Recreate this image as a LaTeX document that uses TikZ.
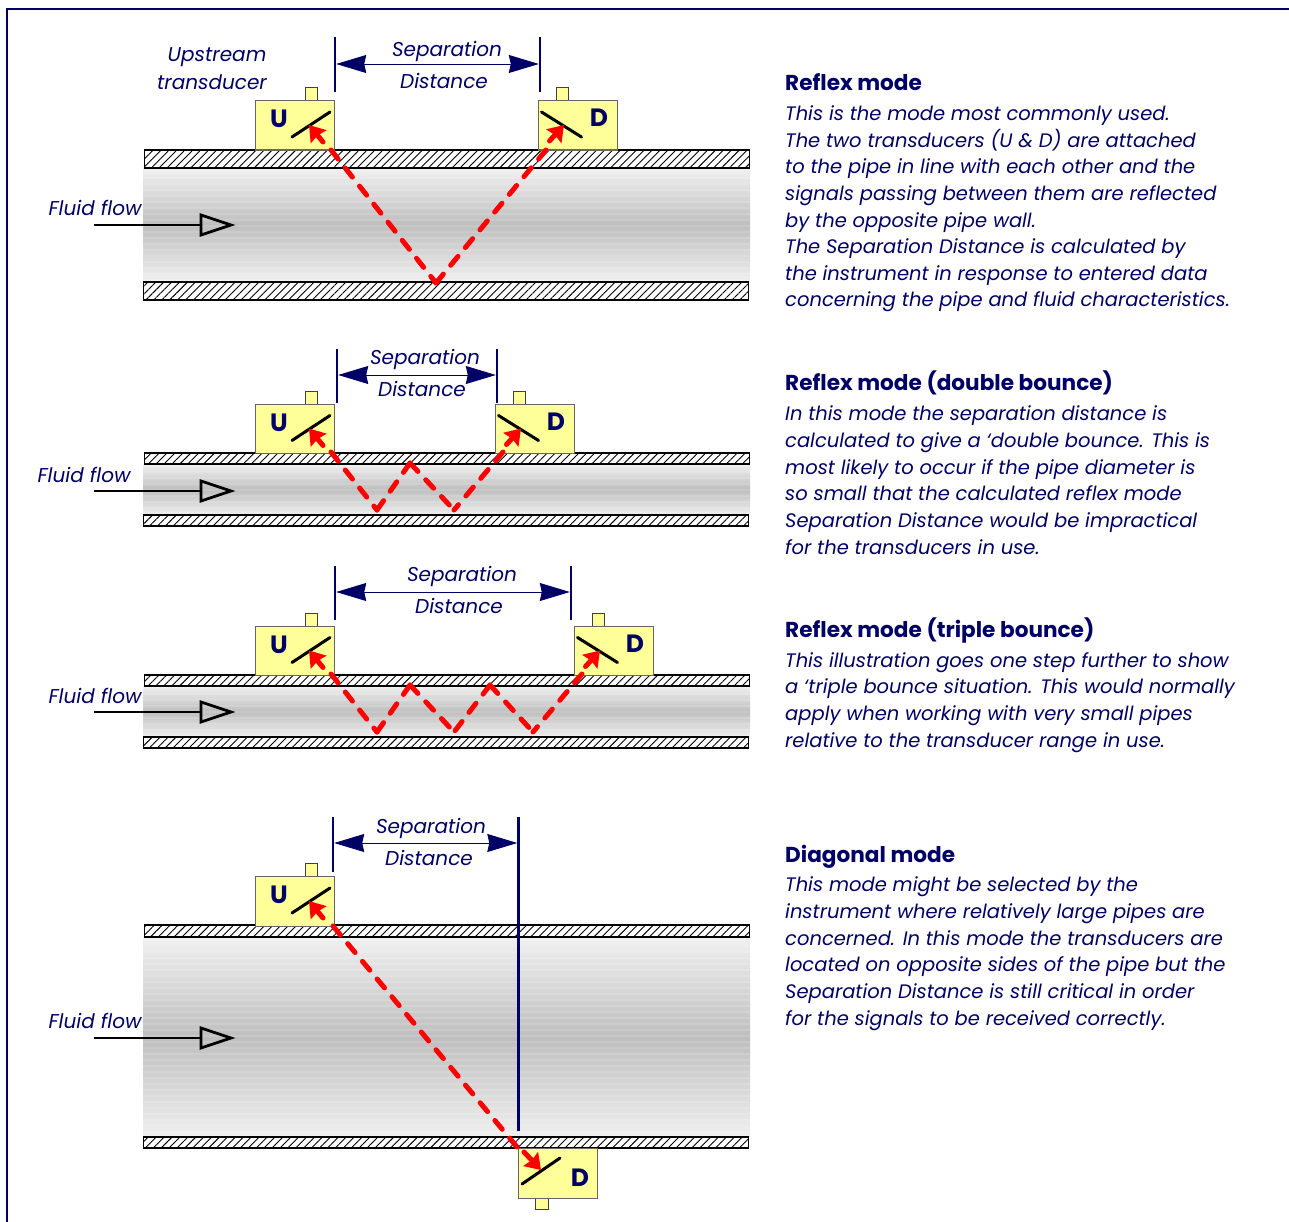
\documentclass[tikz,border=0pt]{standalone}
\usepackage{fontspec}
\setmainfont{Poppins}
\usetikzlibrary{arrows.meta,patterns.meta}
\definecolor{navy}{HTML}{000066}
\definecolor{boxfill}{HTML}{FFFF99}
\definecolor{sigred}{HTML}{FF0000}
\definecolor{pipeedge}{HTML}{F0F0F0}
\definecolor{pipemid}{HTML}{BEBEBE}
\tikzset{
  wall/.style={draw=black,line width=1.3pt,fill=white,postaction={pattern={Lines[angle=45,distance=5.6pt,line width=.9pt]},pattern color=black}},
  bands/.style={opacity=.14,pattern={Lines[angle=0,distance=6pt,line width=2.5pt]},pattern color=white},
  box/.style={draw=black!60,line width=1.2pt,fill=boxfill,rectangle,inner sep=0,minimum width=79pt,minimum height=49.5pt,anchor=north west},
  tabbox/.style={draw=black!75,line width=1pt,fill=boxfill,rectangle,inner sep=0,minimum width=12.5pt,minimum height=13pt,anchor=north west},
  slash/.style={draw=black,line width=3pt,line cap=round},
  sig/.style={draw=sigred,line width=5pt,line cap=round,dash pattern=on 11.5pt off 11.5pt},
  sighead/.style={draw=sigred,line width=5pt,line cap=round,-{Stealth[length=15pt,width=20pt,inset=1.5pt,fill=sigred]}},
  bar/.style={draw=navy,line width=2.6pt},
  dim/.style={draw=navy,line width=.9pt,{Stealth[length=30pt,width=18pt,inset=2pt,fill=navy]}-{Stealth[length=30pt,width=18pt,inset=2pt,fill=navy]}},
  letter/.style={text=navy,font=\fontsize{25}{25}\selectfont\bfseries,inner sep=0},
  lab/.style={text=navy,font=\fontsize{20}{20}\selectfont\itshape,inner sep=0},
  title/.style={text=navy,font=\fontsize{21.6}{21.6}\selectfont\bfseries,inner sep=0,anchor=base west},
  para/.style={text=navy,font=\fontsize{19.5}{26.65}\selectfont\itshape,inner sep=0,anchor=base west,align=left},
  flow/.style={draw=black,line width=2.8pt},
  flowhead/.style={draw=black,line width=2.8pt,line join=miter}
}
\newcommand{\pipe}[4]{%
  \shade[top color=pipeedge,bottom color=pipeedge,middle color=pipemid] (143,#2) rectangle (750,#3);
  \path[bands] (143,#2) rectangle (750,#3);
  \path[wall] (144.5,#1) rectangle (749.5,#2);
  \path[wall] (143.5,#3) rectangle (748.5,#4);
}
\newcommand{\flowarrow}[4]{%
  \node[lab] (#1) at (#2,#3) {Fluid flow};
  \coordinate (#1s) at (94,#4);
  \coordinate (#1e) at (201,#4);
  \draw[flow] (#1s) -- (#1e);
  \draw[flowhead] (201,#4-10) -- (231,#4) -- (201,#4+10) -- cycle;
}
\newcommand{\utrans}[2]{%
  \node[tabbox] (#1t) at (304.5,#2-13) {};
  \node[box] (#1) at (255,#2) {};
  \node[letter] (#1l) at (279,#2+19) {U};
  \coordinate (#1a) at (292,#2+37);
  \coordinate (#1b) at (330,#2+12);
  \draw[slash] (#1a) -- (#1b);
  \coordinate (#1c) at (323,#2+42);
  \coordinate (#1d) at (309,#2+25);
  \draw[sighead] (#1c) -- (#1d);
}
\newcommand{\dtrans}[3]{%
  \node[tabbox] (#1t) at (#2+17.5,#3-13) {};
  \node[box] (#1) at (#2,#3) {};
  \node[letter] (#1l) at (#2+61,#3+18) {D};
  \coordinate (#1a) at (#2+3.5,#3+12);
  \coordinate (#1b) at (#2+43.5,#3+37);
  \draw[slash] (#1a) -- (#1b);
  \coordinate (#1c) at (#2+11.5,#3+41);
  \coordinate (#1d) at (#2+26,#3+25);
  \draw[sighead] (#1c) -- (#1d);
}
\newcommand{\sepdim}[9]{%
  \coordinate (#1p) at (#2,#4);
  \coordinate (#1q) at (#2,#5);
  \coordinate (#1r) at (#3,#4);
  \coordinate (#1s) at (#3,#5);
  \draw[bar] (#1p) -- (#1q);
  \draw[bar] (#1r) -- (#1s);
  \coordinate (#1u) at (#2+1.2,#6);
  \coordinate (#1v) at (#3-1.2,#6);
  \draw[dim] (#1u) -- (#1v);
  \node[lab] (#1x) at (#7,#8+2) {Separation};
  \node[lab] (#1y) at (#9,#8+32) {Distance};
}
\begin{document}
\begin{tikzpicture}[x=1pt,y=-1pt]
\useasboundingbox (0,0) rectangle (1289,1222);
\fill[white] (0,0) rectangle (1289,1222);
\coordinate (frA) at (7,1222);
\coordinate (frB) at (7,9);
\coordinate (frC) at (1289,9);
\draw[navy,line width=2.2pt] (frA) -- (frB) -- (frC);

% ---------- panel 1
\pipe{150}{168}{282}{300}
\flowarrow{fa}{95}{208}{225}
\utrans{ua}{100}
\dtrans{da}{538}{100}
\sepdim{sa}{335}{540}{37}{92}{64}{447}{49}{444}
\node[lab] (up1) at (217,57) {Upstream};
\node[lab] (up2) at (212,82) {transducer};
\coordinate (a0) at (331,150);
\coordinate (a1) at (436,283);
\coordinate (a2) at (546,150);
\draw[sig] (a0) -- (a1);
\draw[sig] (a1) -- (a2);

% ---------- panel 2
\pipe{453}{464}{515}{526}
\flowarrow{fb}{84}{475}{491}
\utrans{ub}{403.5}
\dtrans{db}{495}{403.5}
\sepdim{sb}{337}{497}{349}{403}{375}{425}{357}{422}
\coordinate (b0) at (331,452);
\coordinate (b1) at (377,510);
\coordinate (b2) at (410,463);
\coordinate (b3) at (454,510);
\coordinate (b4) at (503,452);
\draw[sig] (b0) -- (b1);
\draw[sig] (b2) -- (b1);
\draw[sig] (b2) -- (b3);
\draw[sig] (b4) -- (b3);

% ---------- panel 3
\pipe{675}{686}{737}{748}
\flowarrow{fc}{95}{696}{712}
\utrans{uc}{625.5}
\dtrans{dc}{574}{625.5}
\sepdim{sc}{335}{571}{566}{620}{592}{462}{574}{459}
\coordinate (c0) at (331,674);
\coordinate (c1) at (377,732);
\coordinate (c2) at (410,685);
\coordinate (c3) at (454,732);
\coordinate (c4) at (490,685);
\coordinate (c5) at (533,732);
\coordinate (c6) at (582,674);
\draw[sig] (c0) -- (c1);
\draw[sig] (c2) -- (c1);
\draw[sig] (c2) -- (c3);
\draw[sig] (c4) -- (c3);
\draw[sig] (c4) -- (c5);
\draw[sig] (c6) -- (c5);

% ---------- panel 4
\pipe{925}{937}{1137}{1148}
\flowarrow{fd}{95}{1021}{1038}
\utrans{ud}{876}
\sepdim{sd}{333}{518.5}{817}{872}{843}{431}{826}{429}
\coordinate (barT) at (518.5,872);
\coordinate (barB) at (518.5,1131);
\draw[bar] (barT) -- (barB);
\node[tabbox] (ddt) at (535,1196) {};
\node[box] (dd) at (518,1148) {};
\node[letter] (ddl) at (580,1178) {D};
\coordinate (dda) at (522,1184);
\coordinate (ddb) at (560,1158);
\draw[slash] (dda) -- (ddb);
\coordinate (ddc) at (524,1152);
\coordinate (ddd) at (541,1170);
\draw[sighead] (ddc) -- (ddd);
\coordinate (d0) at (333,926);
\coordinate (d1) at (517,1147);
\draw[sig] (d0) -- (d1);

% ---------- texts
\node[title] (t1) at (785,91) {Reflex mode};
\node[para] (p1) at (785,307) {This is the mode most commonly used.\\The two transducers (U \& D) are attached\\to the pipe in line with each other and the\\signals passing between them are reflected\\by the opposite pipe wall.\\The Separation Distance is calculated by\\the instrument in response to entered data\\concerning the pipe and fluid characteristics.};
\node[title] (t2) at (785,390) {Reflex mode (double bounce)};
\node[para] (p2) at (785,554) {In this mode the separation distance is\\calculated to give a ‘double bounce. This is\\most likely to occur if the pipe diameter is\\so small that the calculated reflex mode\\Separation Distance would be impractical\\for the transducers in use.};
\node[title] (t3) at (785,637) {Reflex mode (triple bounce)};
\node[para] (p3) at (785,747) {This illustration goes one step further to show\\a ‘triple bounce situation. This would normally\\apply when working with very small pipes\\relative to the transducer range in use.};
\node[title] (t4) at (785,862) {Diagonal mode};
\node[para] (p4) at (785,1025) {This mode might be selected by the\\instrument where relatively large pipes are\\concerned. In this mode the transducers are\\located on opposite sides of the pipe but the\\Separation Distance is still critical in order\\for the signals to be received correctly.};
\end{tikzpicture}
\end{document}
